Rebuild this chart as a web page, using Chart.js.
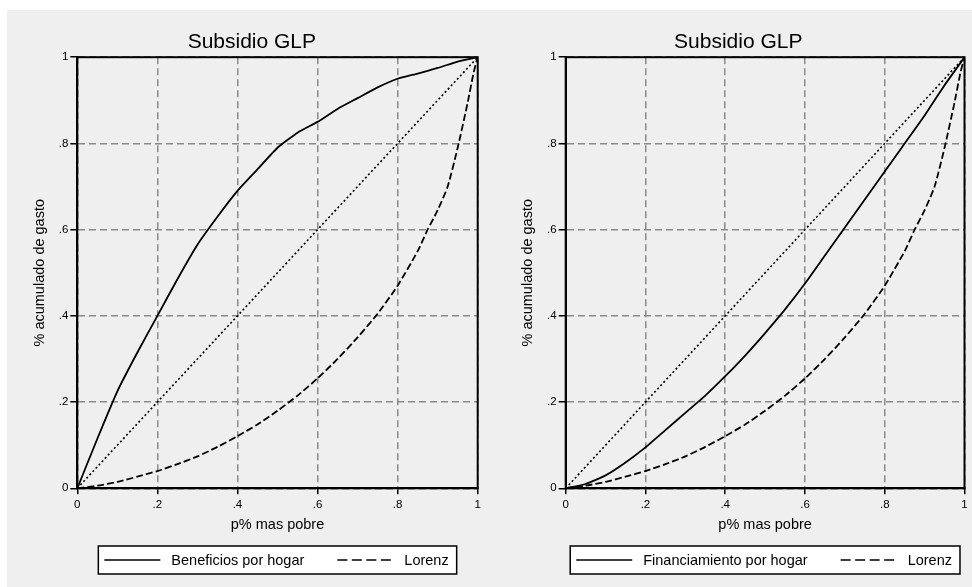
<!DOCTYPE html>
<html>
<head>
<meta charset="utf-8">
<script src="https://cdn.jsdelivr.net/npm/chart.js@4"></script>
<style>
  html, body { margin:0; padding:0; background:#ffffff; }
  #bg { position:absolute; left:7px; top:10px; width:965px; height:577px; background:#efefef; }
  canvas { position:absolute; top:0; }
  #c1 { left:0; }
  #c2 { left:486px; }
</style>
</head>
<body>
<div id="bg"></div>
<canvas id="c1" width="486" height="587"></canvas>
<canvas id="c2" width="486" height="587"></canvas>
<script>
// ---- data ----
const chartTitle = 'Subsidio GLP';
const xTitle = 'p% mas pobre';
const yTitle = '% acumulado de gasto';
const tickLabels = ['0', '.2', '.4', '.6', '.8', '1'];
const tickValues = [0, 0.2, 0.4, 0.6, 0.8, 1];

const pctPoor = [0, 0.05, 0.1, 0.15, 0.2, 0.25, 0.3, 0.35, 0.4, 0.45, 0.5,
                 0.55, 0.6, 0.65, 0.7, 0.75, 0.8, 0.85, 0.9, 0.95, 1];
const beneficios = [0, 0.115, 0.225, 0.315, 0.40, 0.485, 0.565, 0.63, 0.69, 0.74, 0.79,
                    0.825, 0.85, 0.88, 0.905, 0.93, 0.95, 0.962, 0.975, 0.99, 1];
const financiamiento = [0, 0.01, 0.03, 0.06, 0.095, 0.135, 0.175, 0.215, 0.26, 0.308, 0.36,
                        0.415, 0.475, 0.54, 0.605, 0.67, 0.735, 0.80, 0.865, 0.935, 1];

const lorenzX = [0, 0.05, 0.1, 0.15, 0.2, 0.25, 0.3, 0.35, 0.4, 0.45, 0.5, 0.55, 0.6,
                 0.65, 0.7, 0.75, 0.8, 0.85, 0.875, 0.9, 0.925, 0.95, 0.975, 0.99, 1];
const lorenzY = [0, 0.006, 0.015, 0.027, 0.04, 0.056, 0.074, 0.096, 0.121, 0.148, 0.18, 0.215, 0.255,
                 0.30, 0.35, 0.405, 0.47, 0.55, 0.60, 0.645, 0.70, 0.79, 0.895, 0.965, 1];

const equalityX = [0, 1];
const equalityY = [0, 1];

// ---- helpers ----
const FONT = '"Liberation Sans", Arial, Helvetica, sans-serif';
const pts = (xs, ys) => xs.map((x, i) => ({ x: x, y: ys[i] }));

const framePlugin = {
  id: 'frame',
  beforeDatasetsDraw(chart) {
    const { ctx, chartArea: a } = chart;
    ctx.save();
    ctx.strokeStyle = '#000';
    ctx.lineWidth = 2;
    ctx.setLineDash([]);
    ctx.strokeRect(a.left, a.top, a.right - a.left, a.bottom - a.top);
    ctx.restore();
  }
};

const boxLegendPlugin = {
  id: 'boxLegend',
  afterDraw(chart, args, opts) {
    const ctx = chart.ctx;
    const a = chart.chartArea;
    const items = opts.indices.map(i => chart.data.datasets[i]);
    ctx.save();
    ctx.font = '14.5px ' + FONT;
    const sample = 56, gapT = 11, gapItem = 33, padL = 6, padR = 8;
    let total = padL + padR;
    items.forEach((ds, i) => {
      total += sample + gapT + ctx.measureText(ds.label).width + (i ? gapItem : 0);
    });
    const x0 = (a.left + a.right) / 2 - total / 2;
    const y0 = opts.top, h = opts.height;
    ctx.fillStyle = '#ffffff';
    ctx.fillRect(x0, y0, total, h);
    ctx.strokeStyle = '#000';
    ctx.lineWidth = 1.5;
    ctx.strokeRect(x0, y0, total, h);
    let x = x0 + padL;
    const yc = y0 + h / 2;
    items.forEach((ds, i) => {
      if (i) x += gapItem;
      ctx.beginPath();
      ctx.setLineDash(ds.legendDash || []);
      ctx.lineWidth = 1.6;
      ctx.moveTo(x, yc);
      ctx.lineTo(x + sample, yc);
      ctx.stroke();
      ctx.setLineDash([]);
      x += sample + gapT;
      ctx.fillStyle = '#000';
      ctx.textBaseline = 'middle';
      ctx.textAlign = 'left';
      ctx.fillText(ds.label, x, yc + 1);
      x += ctx.measureText(ds.label).width;
    });
    ctx.restore();
  }
};

function makeChart(id, mainLabel, mainValues, yAxisWidth, rightPad, yTitlePad) {
  const ctx = document.getElementById(id).getContext('2d');
  return new Chart(ctx, {
    type: 'line',
    data: {
      datasets: [
        {
          label: mainLabel,
          data: pts(pctPoor, mainValues),
          borderColor: '#000', borderWidth: 1.8, pointRadius: 0, tension: 0.15,
          borderDash: [], legendDash: []
        },
        {
          label: 'Lorenz',
          data: pts(lorenzX, lorenzY),
          borderColor: '#000', borderWidth: 1.8, pointRadius: 0, tension: 0.2,
          borderDash: [7, 3], legendDash: [10, 4.5]
        },
        {
          label: 'Igualdad',
          data: pts(equalityX, equalityY),
          borderColor: '#000', borderWidth: 1.6, pointRadius: 0, tension: 0,
          borderDash: [2, 2.5]
        }
      ]
    },
    options: {
      responsive: false,
      animation: false,
      events: [],
      layout: { padding: { top: 0, left: 26, right: rightPad, bottom: 53.7 } },
      plugins: {
        legend: { display: false },
        tooltip: { enabled: false },
        title: {
          display: true, text: chartTitle, color: '#000',
          font: { family: FONT, size: 21, weight: 'normal', lineHeight: 1.2 },
          padding: { top: 30, bottom: 2 }
        },
        boxLegend: { indices: [0, 1], top: 546, height: 28 }
      },
      scales: {
        x: {
          type: 'linear', min: 0, max: 1,
          afterBuildTicks: s => { s.ticks = tickValues.map(v => ({ value: v })); },
          afterFit: s => { s.height = 45; },
          ticks: {
            callback: (v, i) => tickLabels[i],
            color: '#000', padding: 4, maxRotation: 0,
            font: { family: FONT, size: 11.5 }
          },
          grid: {
            color: '#8a8a8a', lineWidth: 1.5,
            drawTicks: true, tickLength: 6, tickColor: '#000', tickWidth: 1.5, tickBorderDash: []
          },
          border: { display: true, color: '#000', width: 2, dash: [7, 4] },
          title: {
            display: true, text: xTitle, color: '#000',
            font: { family: FONT, size: 14.5 }, padding: { top: 0, bottom: 0 }
          }
        },
        y: {
          type: 'linear', min: 0, max: 1,
          afterBuildTicks: s => { s.ticks = tickValues.map(v => ({ value: v })); },
          afterFit: s => { s.width = yAxisWidth; },
          ticks: {
            callback: (v, i) => tickLabels[i],
            color: '#000', padding: 2,
            font: { family: FONT, size: 11.5 }
          },
          grid: {
            color: '#8a8a8a', lineWidth: 1.5,
            drawTicks: true, tickLength: 7, tickColor: '#000', tickWidth: 1.5, tickBorderDash: []
          },
          border: { display: true, color: '#000', width: 2, dash: [7, 4] },
          title: {
            display: true, text: yTitle, color: '#000',
            font: { family: FONT, size: 14.5 }, padding: { top: yTitlePad, bottom: 0 }
          }
        }
      }
    },
    plugins: [framePlugin, boxLegendPlugin]
  });
}

makeChart('c1', 'Beneficios por hogar', beneficios, 51.3, 8.3, 5.3);
makeChart('c2', 'Financiamiento por hogar', financiamiento, 53.7, 7.5, 7.3);
</script>
</body>
</html>
